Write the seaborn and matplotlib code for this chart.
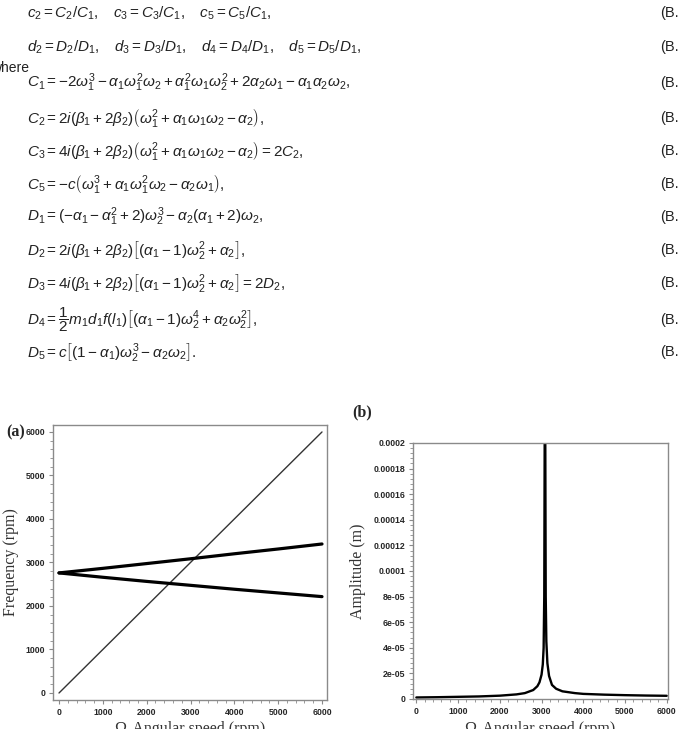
import numpy as np
import pandas as pd
import matplotlib
matplotlib.use("Agg")
import matplotlib.pyplot as plt
import matplotlib.ticker as mticker
import seaborn as sns

# ---- data ----
speed = [0, 1000, 2000, 3000, 4000, 5000, 6000]
freq_fw = [2760, 2865, 2975, 3085, 3200, 3310, 3425]
freq_bw = [2760, 2660, 2565, 2475, 2385, 2300, 2215]
speed_line = [0, 6000]
freq_line = [0, 6000]

amp_speed = [0, 500, 1000, 1500, 2000, 2400, 2600, 2800, 2900, 2950, 3000, 3030,
             3050, 3065, 3075, 3082, 3090, 3100, 3115, 3140, 3180, 3250, 3350,
             3500, 3800, 4000, 4500, 5000, 5500, 6000]
amp_val = [1.2e-6, 1.4e-6, 1.7e-6, 2.0e-6, 2.6e-6, 3.6e-6, 4.6e-6, 7.0e-6, 1.0e-5,
           1.3e-5, 1.9e-5, 2.7e-5, 4.0e-5, 8.0e-5, 2.0e-4, 2.6e-4, 2.0e-4, 8.0e-5,
           4.5e-5, 2.8e-5, 1.8e-5, 1.1e-5, 8.0e-6, 6.0e-6, 4.6e-6, 4.0e-6, 3.4e-6,
           3.0e-6, 2.7e-6, 2.5e-6]
amp_ticks = [0, 2e-5, 4e-5, 6e-5, 8e-5, 1e-4, 1.2e-4, 1.4e-4, 1.6e-4, 1.8e-4, 2e-4]
amp_ticklabels = ["0", "2e-05", "4e-05", "6e-05", "8e-05", "0.0001", "0.00012",
                  "0.00014", "0.00016", "0.00018", "0.0002"]

equations = [
    r"$c_2 = C_2/C_1,\quad c_3 = C_3/C_1,\quad c_5 = C_5/C_1,$",
    r"$d_2 = D_2/D_1,\quad d_3 = D_3/D_1,\quad d_4 = D_4/D_1,\quad d_5 = D_5/D_1,$",
    r"$C_1 = -2\omega_1^3 - \alpha_1\omega_1^2\omega_2 + \alpha_1^2\omega_1\omega_2^2 + 2\alpha_2\omega_1 - \alpha_1\alpha_2\omega_2,$",
    r"$C_2 = 2i(\beta_1 + 2\beta_2)\left(\omega_1^2 + \alpha_1\omega_1\omega_2 - \alpha_2\right),$",
    r"$C_3 = 4i(\beta_1 + 2\beta_2)\left(\omega_1^2 + \alpha_1\omega_1\omega_2 - \alpha_2\right) = 2C_2,$",
    r"$C_5 = -c\left(\omega_1^3 + \alpha_1\omega_1^2\omega_2 - \alpha_2\omega_1\right),$",
    r"$D_1 = (-\alpha_1 - \alpha_1^2 + 2)\omega_2^3 - \alpha_2(\alpha_1 + 2)\omega_2,$",
    r"$D_2 = 2i(\beta_1 + 2\beta_2)\left[(\alpha_1 - 1)\omega_2^2 + \alpha_2\right],$",
    r"$D_3 = 4i(\beta_1 + 2\beta_2)\left[(\alpha_1 - 1)\omega_2^2 + \alpha_2\right] = 2D_2,$",
    r"$D_4 = \dfrac{1}{2}m_1 d_1 f(l_1)\left[(\alpha_1 - 1)\omega_2^4 + \alpha_2\omega_2^2\right],$",
    r"$D_5 = c\left[(1 - \alpha_1)\omega_2^3 - \alpha_2\omega_2\right].$",
]
eq_y = [13, 47, 83, 118, 151, 184, 217, 250, 283, 320, 352]
eq_numbers = ["(B.1)", "(B.2)", "(B.3)", "(B.4)", "(B.5)", "(B.6)", "(B.7)",
              "(B.8)", "(B.9)", "(B.10)", "(B.11)"]

sns.set_style("white")
plt.rcParams["font.family"] = ["Liberation Sans", "DejaVu Sans"]
plt.rcParams["mathtext.fontset"] = "custom"
plt.rcParams["mathtext.rm"] = "Liberation Sans"
plt.rcParams["mathtext.it"] = "Liberation Sans:italic"
plt.rcParams["mathtext.bf"] = "Liberation Sans:bold"

W, H = 678, 729
fig = plt.figure(figsize=(W / 100, H / 100), dpi=100)

# equations block
for s, y, n in zip(equations, eq_y, eq_numbers):
    fig.text(27 / W, 1 - y / H, s, fontsize=11, va="center", ha="left", color="#222222")
    fig.text(660 / W, 1 - y / H, n, fontsize=10.5, va="center", ha="left", color="#222222")
fig.text(-9 / W, 1 - 68 / H, "where", fontsize=10, va="center", ha="left", color="#222222")

frame_col = "#8a8a8a"
label_font = {"family": "Liberation Serif", "size": 11.5, "color": "#333333"}


def style_axes(ax):
    for sp in ax.spines.values():
        sp.set_color(frame_col)
        sp.set_linewidth(1.0)
    ax.tick_params(which="both", bottom=True, left=True, direction="out", color=frame_col)
    ax.tick_params(which="major", length=3, width=0.8, pad=2.5)
    ax.tick_params(which="minor", length=2, width=0.6)
    for lab in ax.get_xticklabels() + ax.get_yticklabels():
        lab.set_fontfamily("Liberation Sans")
        lab.set_fontweight("bold")
        lab.set_fontsize(6.3)


# ---- panel (a) ----
ax1 = fig.add_axes([53 / W, 1 - 700 / H, 274 / W, 275 / H])
df_a = pd.DataFrame({"speed": speed, "fw": freq_fw, "bw": freq_bw})
df_l = pd.DataFrame({"speed": speed_line, "freq": freq_line})
sns.lineplot(data=df_l, x="speed", y="freq", ax=ax1, color="#333333", lw=1.0)
sns.lineplot(data=df_a, x="speed", y="fw", ax=ax1, color="black", lw=2.3)
sns.lineplot(data=df_a, x="speed", y="bw", ax=ax1, color="black", lw=2.3)
ax1.set_xlim(-137, 6114)
ax1.set_ylim(-161, 6160)
ax1.set_xticks(range(0, 6001, 1000))
ax1.set_yticks(range(0, 6001, 1000))
ax1.xaxis.set_minor_locator(mticker.MultipleLocator(200))
ax1.yaxis.set_minor_locator(mticker.MultipleLocator(200))
style_axes(ax1)
ax1.set_xlabel("Ω-Angular speed (rpm)", fontdict=label_font)
ax1.set_ylabel("Frequency (rpm)", fontdict=label_font)
ax1.xaxis.set_label_coords(0.5, (700 - 721) / 275)
ax1.yaxis.set_label_coords((19 - 53) / 274, 0.5)
fig.text(6 / W, 1 - 432 / H, "(a)", fontfamily="Liberation Serif", fontweight="bold",
         fontsize=11.5, va="center")

# ---- panel (b) ----
ax2 = fig.add_axes([413 / W, 1 - 699 / H, 255 / W, 256 / H])
df_b = pd.DataFrame({"speed": amp_speed, "amp": amp_val})
sns.lineplot(data=df_b, x="speed", y="amp", ax=ax2, color="black", lw=1.7)
ax2.set_xlim(-80, 6030)
ax2.set_ylim(0, 0.0002)
ax2.set_xticks(range(0, 6001, 1000))
ax2.set_yticks(amp_ticks)
ax2.set_yticklabels(amp_ticklabels)
ax2.xaxis.set_minor_locator(mticker.MultipleLocator(200))
ax2.yaxis.set_minor_locator(mticker.MultipleLocator(4e-6))
style_axes(ax2)
ax2.set_xlabel("Ω-Angular speed (rpm)", fontdict=label_font)
ax2.set_ylabel("Amplitude (m)", fontdict=label_font)
ax2.xaxis.set_label_coords(0.5, (699 - 721) / 256)
ax2.yaxis.set_label_coords((366 - 413) / 255, 0.5)
fig.text(352 / W, 1 - 412 / H, "(b)", fontfamily="Liberation Serif", fontweight="bold",
         fontsize=11.5, va="center")

fig.savefig("out.png", dpi=100)
